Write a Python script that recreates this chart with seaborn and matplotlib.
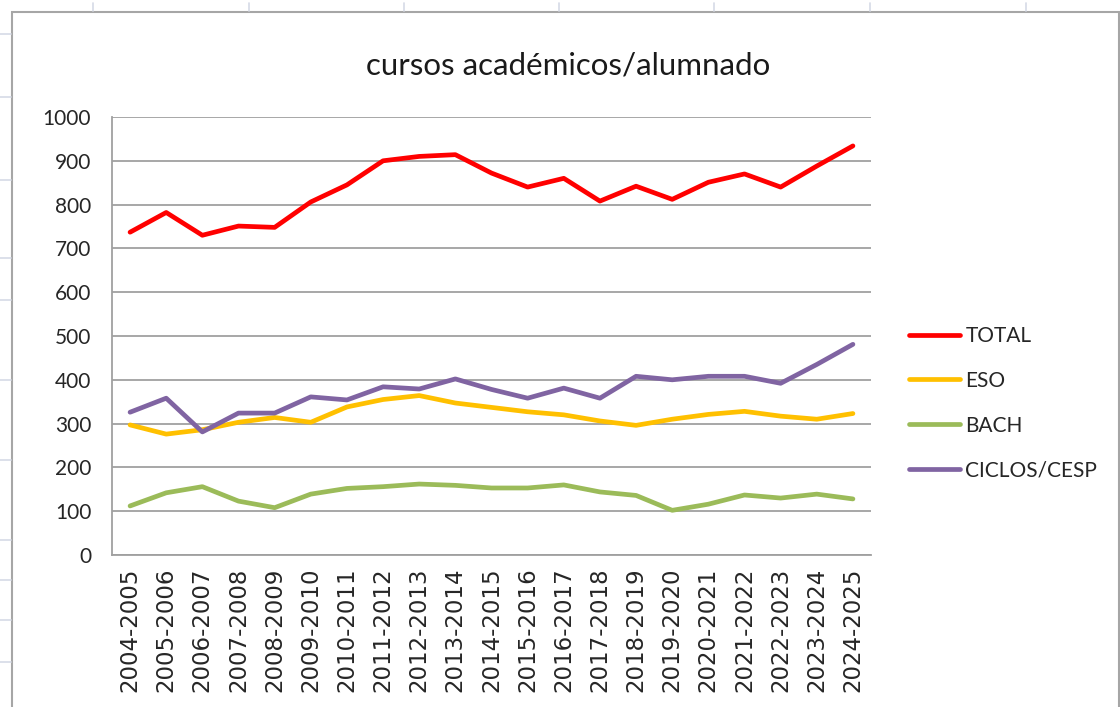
import numpy as np
import pandas as pd
import matplotlib
matplotlib.use("Agg")
import matplotlib.pyplot as plt
import seaborn as sns
from matplotlib.patches import Rectangle
from matplotlib.lines import Line2D

# datos
cursos = ["2004-2005", "2005-2006", "2006-2007", "2007-2008", "2008-2009",
          "2009-2010", "2010-2011", "2011-2012", "2012-2013", "2013-2014",
          "2014-2015", "2015-2016", "2016-2017", "2017-2018", "2018-2019",
          "2019-2020", "2020-2021", "2021-2022", "2022-2023", "2023-2024",
          "2024-2025"]
total = [737, 782, 730, 751, 748, 806, 845, 900, 910, 914,
         872, 840, 860, 808, 842, 812, 851, 870, 840, 888, 934]
eso = [297, 276, 286, 303, 314, 303, 338, 355, 364, 347,
       337, 327, 320, 306, 296, 310, 321, 328, 317, 310, 323]
bach = [112, 142, 156, 123, 108, 139, 152, 156, 162, 159,
        153, 153, 160, 144, 136, 102, 116, 137, 130, 139, 128]
ciclos = [326, 358, 281, 324, 324, 361, 354, 384, 379, 402,
          378, 358, 381, 358, 408, 400, 408, 408, 392, 435, 481]

series = ["TOTAL", "ESO", "BACH", "CICLOS/CESP"]
colores = ["#FF0000", "#FFC000", "#9BBB59", "#8064A2"]

df = pd.DataFrame({"curso": cursos, "TOTAL": total, "ESO": eso,
                   "BACH": bach, "CICLOS/CESP": ciclos})
largo = df.melt(id_vars="curso", var_name="serie", value_name="alumnado")
largo["pos"] = largo["curso"].map({c: i for i, c in enumerate(cursos)})

sns.set_style("white")
plt.rcParams["font.family"] = ["Lato", "DejaVu Sans"]

fig = plt.figure(figsize=(11.2, 7.07), dpi=100)
W, H = 1120, 707

# rejilla de la hoja de cálculo detrás del gráfico
hoja = "#D5DAE6"
for x in [93, 249, 404, 559, 714, 870, 1026]:
    fig.add_artist(Line2D([x / W, x / W], [1 - 3 / H, 1 - 11 / H], color=hoja, lw=1.2))
for y in [34, 97, 180, 258, 300, 380, 460, 540, 580, 620, 662]:
    fig.add_artist(Line2D([0, 11 / W], [1 - y / H, 1 - y / H], color=hoja, lw=1.2))
fig.add_artist(Rectangle((12 / W, -0.01), (1119 - 12) / W, 1 - 12 / H + 0.01,
                         transform=fig.transFigure, fill=False,
                         edgecolor="#A6A6A6", lw=1.5))

ax = fig.add_axes([112 / W, 1 - 555 / H, (871 - 112) / W, (555 - 117) / H])

sns.lineplot(data=largo, x="pos", y="alumnado", hue="serie", hue_order=series,
             palette=colores, linewidth=3.4, ax=ax, legend=True)

gris = "#A0A0A0"
ax.set_ylim(0, 1000)
ax.set_xlim(-0.5, len(cursos) - 0.5)
ax.set_yticks(np.arange(0, 1001, 100))
ax.yaxis.grid(True, color=gris, lw=1.3)
ax.set_axisbelow(True)
ax.set_xticks(range(len(cursos)))
ax.set_xticklabels(cursos, rotation=90, fontsize=16.5, family="DejaVu Sans")
ax.set_xticks(np.arange(-0.5, len(cursos), 1), minor=True)
ax.tick_params(axis="x", which="major", length=0, pad=9)
ax.tick_params(axis="x", which="minor", length=7, color=gris, width=1.3, direction="out")
ax.tick_params(axis="y", length=7, color=gris, width=1.3, direction="out",
               labelsize=15, pad=8)
for lado in ["top", "right"]:
    ax.spines[lado].set_visible(False)
for lado in ["left", "bottom"]:
    ax.spines[lado].set_color(gris)
    ax.spines[lado].set_linewidth(1.3)
ax.set_xlabel("")
ax.set_ylabel("")

fig.text(568 / W, 1 - 65 / H, "cursos académicos/alumnado", fontsize=22.5,
         ha="center", va="center", color="#1a1a1a")

ax.legend(title=None, frameon=False, loc="upper left",
          bbox_to_anchor=(909 / W, 1 - 326 / H), bbox_transform=fig.transFigure,
          fontsize=15, handlelength=2.45, handletextpad=0.25, labelspacing=1.19,
          borderpad=0, borderaxespad=0)

fig.savefig("out.png", dpi=100)
